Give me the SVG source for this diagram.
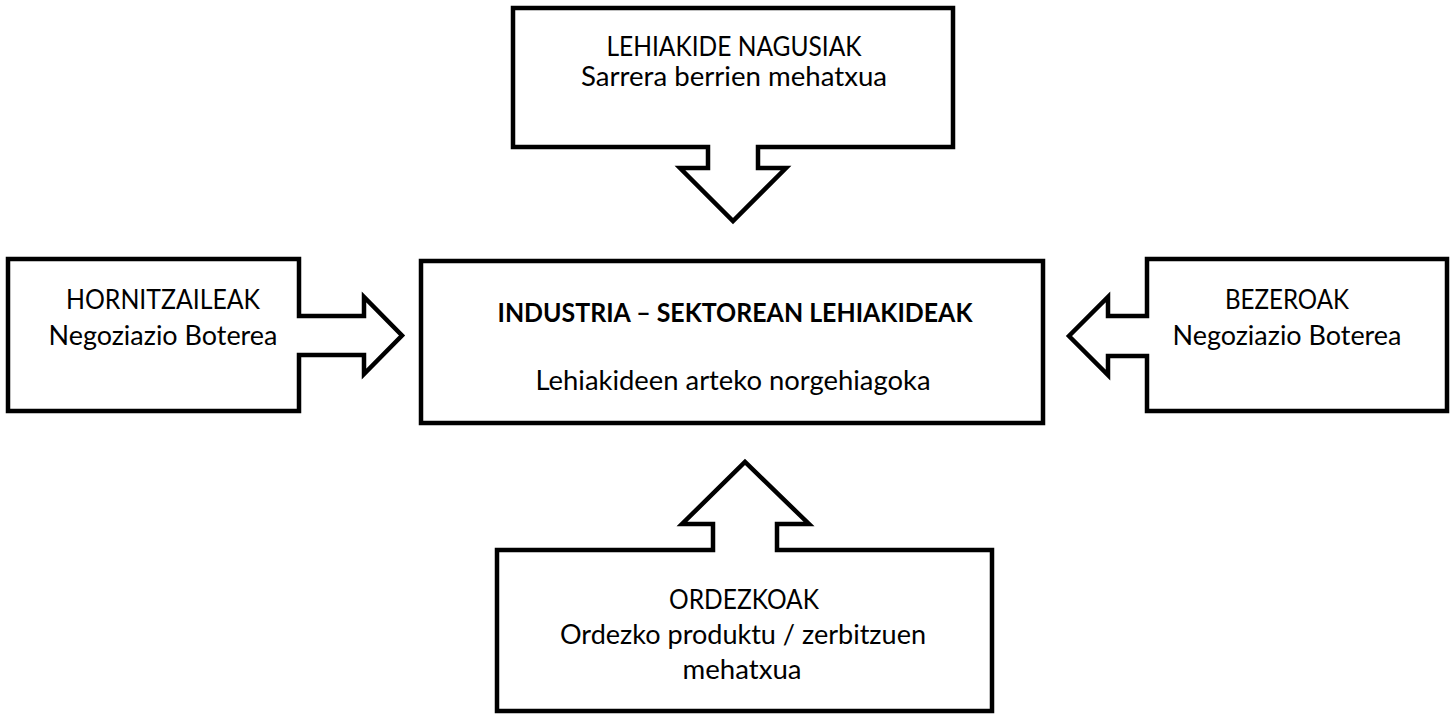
<svg xmlns="http://www.w3.org/2000/svg" width="1456" height="715" viewBox="0 0 1456 715">
<style>
  .shape { fill: #ffffff; stroke: #000000; stroke-width: 4.5; stroke-linejoin: miter; }
  .t { font-family: Lato, "Open Sans", "Liberation Sans", sans-serif; font-size: 27px; fill: #000000; text-anchor: middle; }
  .b { font-weight: bold; }
</style>
<rect width="1456" height="715" fill="#ffffff"/>
<g id="connectors"></g>
<g id="node-top">
  <path class="shape" d="M513,8 H953 V147 H758 V168 H786 L733,221 L680,168 H708 V147 H513 Z"/>
  <text class="t" x="734" y="56" textLength="255" lengthAdjust="spacingAndGlyphs">LEHIAKIDE NAGUSIAK</text>
  <text class="t" x="734" y="86" textLength="306" lengthAdjust="spacingAndGlyphs">Sarrera berrien mehatxua</text>
</g>
<g id="node-left">
  <path class="shape" d="M8,259 H299 V316 H364 V297 L402,335.5 L364,374 V355 H299 V411 H8 Z"/>
  <text class="t" x="163" y="309" textLength="194" lengthAdjust="spacingAndGlyphs">HORNITZAILEAK</text>
  <text class="t" x="163" y="345" textLength="229" lengthAdjust="spacingAndGlyphs">Negoziazio Boterea</text>
</g>
<g id="node-center">
  <rect class="shape" x="421" y="261" width="622" height="162"/>
  <text class="t b" x="735" y="322" textLength="475" lengthAdjust="spacingAndGlyphs">INDUSTRIA – SEKTOREAN LEHIAKIDEAK</text>
  <text class="t" x="733" y="390" textLength="395" lengthAdjust="spacingAndGlyphs">Lehiakideen arteko norgehiagoka</text>
</g>
<g id="node-right">
  <path class="shape" d="M1447,259 V411 H1147 V356 H1108 V375 L1069,336 L1108,297 V316 H1147 V259 Z"/>
  <text class="t" x="1287" y="309" textLength="124" lengthAdjust="spacingAndGlyphs">BEZEROAK</text>
  <text class="t" x="1287" y="345" textLength="229" lengthAdjust="spacingAndGlyphs">Negoziazio Boterea</text>
</g>
<g id="node-bottom">
  <path class="shape" d="M497,711 V550 H713 V524 H682 L745,462 L809,524 H777 V550 H992 V711 Z"/>
  <text class="t" x="744" y="609" textLength="150" lengthAdjust="spacingAndGlyphs">ORDEZKOAK</text>
  <text class="t" x="743" y="644" textLength="366" lengthAdjust="spacingAndGlyphs">Ordezko produktu / zerbitzuen</text>
  <text class="t" x="742" y="679" textLength="119" lengthAdjust="spacingAndGlyphs">mehatxua</text>
</g>
</svg>
